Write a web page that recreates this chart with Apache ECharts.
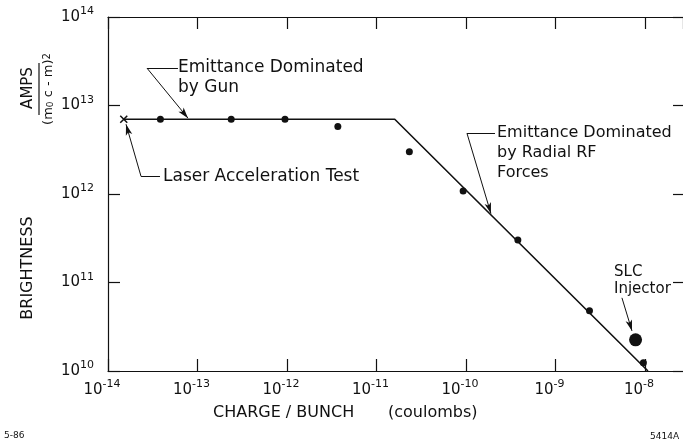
<!DOCTYPE html>
<html><head><meta charset="utf-8">
<script src="https://cdn.jsdelivr.net/npm/echarts@6/dist/echarts.min.js"></script>
<style>html,body{margin:0;padding:0;background:#fff}#c{width:683px;height:439px}</style>
</head><body><div id="c"></div>
<script>
// ---- data (coulombs, brightness) ----
const measuredCharge = [3.85e-14, 2.38e-13, 9.5e-13, 3.7e-12, 2.33e-11, 9.3e-11, 3.8e-10, 2.4e-9, 9.6e-9];
const measuredBrightness = [7.0e12, 7.0e12, 7.0e12, 5.8e12, 3.0e12, 1.08e12, 3.03e11, 4.8e10, 1.24e10];
const theoryCharge = [1.5e-14, 1.6e-11, 1.08e-8];
const theoryBrightness = [7.0e12, 7.0e12, 1.0e10];
const laserTest = [1.5e-14, 7.0e12];
const slcInjector = [7.85e-9, 2.25e10];
const xTickExponents = [-14, -13, -12, -11, -10, -9, -8];
const yTickExponents = [10, 11, 12, 13, 14];
// annotation leader lines, in data coordinates
const leaders = [
  {from: [6.05e-14, 2.64e13], to: [2.73e-14, 2.64e13], arrow: false},
  {from: [2.73e-14, 2.64e13], to: [7.83e-14, 7.2e12], arrow: true},
  {from: [3.81e-14, 1.58e12], to: [2.34e-14, 1.58e12], arrow: false},
  {from: [2.34e-14, 1.58e12], to: [1.59e-14, 6.14e12], arrow: true, curve: -0.12},
  {from: [2.11e-10, 4.85e12], to: [1.026e-10, 4.85e12], arrow: false},
  {from: [1.026e-10, 4.85e12], to: [1.90e-10, 6.01e11], arrow: true},
  {from: [5.53e-9, 6.71e10], to: [7.16e-9, 2.84e10], arrow: true, curve: 0.25}
];

const INK = '#111';
const FONT = 'DejaVu Sans';

function zip(a, b) { return a.map((v, i) => [v, b[i]]); }
function powLabel(list) {
  return function (v) {
    const l = Math.log10(v), e = Math.round(l);
    if (Math.abs(l - e) > 1e-6 || list.indexOf(e) < 0) return '';
    return '{b|10}{s|' + e + '}';
  };
}
const labelRich = {
  b: {fontSize: 15, fontFamily: FONT, color: INK, lineHeight: 22},
  s: {fontSize: 11, fontFamily: FONT, color: INK, verticalAlign: 'top'}
};
const tickStyle = {show: true, inside: true, length: 12, lineStyle: {color: INK, width: 1.2}};
const lineStyle = {color: INK, width: 1.2};

const chart = echarts.init(document.getElementById('c'), null, {renderer: 'canvas'});
chart.setOption({
  animation: false,
  backgroundColor: '#fff',
  grid: {left: 108, right: 0, top: 17, bottom: 68, containLabel: false},
  xAxis: [
    {type: 'log', logBase: 10, min: 1e-14, max: Math.pow(10, -7.575), interval: 1, position: 'bottom',
     axisLine: {show: true, onZero: false, lineStyle: lineStyle}, axisTick: tickStyle,
     axisLabel: {formatter: powLabel(xTickExponents), rich: labelRich, margin: 8, padding: [0, 12, 0, 0], showMaxLabel: false},
     splitLine: {show: false}, minorTick: {show: false}},
    {type: 'log', logBase: 10, min: 1e-14, max: Math.pow(10, -7.575), interval: 1, position: 'top',
     axisLine: {show: true, onZero: false, lineStyle: lineStyle}, axisTick: tickStyle,
     axisLabel: {show: false}, splitLine: {show: false}}
  ],
  yAxis: [
    {type: 'log', logBase: 10, min: 1e10, max: 1e14, interval: 1, position: 'left',
     axisLine: {show: true, onZero: false, lineStyle: lineStyle}, axisTick: tickStyle,
     axisLabel: {formatter: powLabel(yTickExponents), rich: labelRich, margin: 14},
     splitLine: {show: false}, minorTick: {show: false}},
    {type: 'log', logBase: 10, min: 1e10, max: 1e14, interval: 1, position: 'right',
     axisLine: {show: false}, axisTick: Object.assign({}, tickStyle, {length: 10}),
     axisLabel: {show: false}, splitLine: {show: false}}
  ],
  series: [
    {type: 'line', name: 'theory', data: zip(theoryCharge, theoryBrightness), symbol: 'none',
     lineStyle: {color: INK, width: 1.6}, z: 2,
     markLine: {
       silent: true, animation: false, label: {show: false},
       lineStyle: {color: INK, width: 1, type: 'solid'},
       data: leaders.map(l => [
         {coord: l.from, symbol: 'none', lineStyle: {curveness: l.curve || 0, color: INK, width: 1, type: 'solid'}},
         {coord: l.to, symbol: l.arrow ? 'arrow' : 'none', symbolSize: [5, 11]}
       ])
     }},
    {type: 'scatter', name: 'measured', data: zip(measuredCharge, measuredBrightness),
     symbol: 'circle', symbolSize: 7, itemStyle: {color: INK, opacity: 1}, z: 3},
    {type: 'scatter', name: 'SLC Injector', data: [slcInjector],
     symbol: 'circle', symbolSize: 13, itemStyle: {color: INK, opacity: 1}, z: 3},
    {type: 'scatter', name: 'Laser Acceleration Test', data: [laserTest],
     symbol: 'path://M0 0L10 10M10 0L0 10', symbolSize: 7,
     itemStyle: {color: 'none', borderColor: INK, borderWidth: 1.5, opacity: 1}, z: 3}
  ],
  graphic: [
    {type: 'text', x: 178, y: 58, style: {text: 'Emittance Dominated\nby Gun', font: '17px ' + FONT, fill: INK, lineHeight: 20, align: 'left', verticalAlign: 'top', textAlign: 'left', textVerticalAlign: 'top'}},
    {type: 'text', x: 163, y: 177, style: {text: 'Laser Acceleration Test', font: '17px ' + FONT, fill: INK, align: 'left', verticalAlign: 'middle', textAlign: 'left', textVerticalAlign: 'middle'}},
    {type: 'text', x: 497, y: 123, style: {text: 'Emittance Dominated\nby Radial RF\nForces', font: '16px ' + FONT, fill: INK, lineHeight: 20, align: 'left', verticalAlign: 'top', textAlign: 'left', textVerticalAlign: 'top'}},
    {type: 'text', x: 614, y: 264, style: {text: 'SLC\nInjector', font: '15px ' + FONT, fill: INK, lineHeight: 17, align: 'left', verticalAlign: 'top', textAlign: 'left', textVerticalAlign: 'top'}},
    {type: 'text', x: 213, y: 413, style: {text: 'CHARGE / BUNCH', font: '16px ' + FONT, fill: INK, align: 'left', verticalAlign: 'middle', textAlign: 'left', textVerticalAlign: 'middle'}},
    {type: 'text', x: 388, y: 413, style: {text: '(coulombs)', font: '16px ' + FONT, fill: INK, align: 'left', verticalAlign: 'middle', textAlign: 'left', textVerticalAlign: 'middle'}},
    {type: 'text', x: 28, y: 268, rotation: Math.PI / 2, style: {text: 'BRIGHTNESS', font: '16px ' + FONT, fill: INK, align: 'center', verticalAlign: 'middle', textAlign: 'center', textVerticalAlign: 'middle'}},
    {type: 'text', x: 28, y: 88, rotation: Math.PI / 2, style: {text: 'AMPS', font: '15px ' + FONT, fill: INK, align: 'center', verticalAlign: 'middle', textAlign: 'center', textVerticalAlign: 'middle'}},
    {type: 'line', shape: {x1: 39, y1: 63, x2: 39, y2: 115}, style: {stroke: INK, lineWidth: 1.2}},
    {type: 'text', x: 49, y: 89, rotation: Math.PI / 2, style: {text: '(m{sub|0} c - m){sup|2}', font: '13px ' + FONT, fill: INK, align: 'center', verticalAlign: 'middle', textAlign: 'center', textVerticalAlign: 'middle',
      rich: {sub: {fontSize: 9, fontFamily: FONT, fill: INK, color: INK, verticalAlign: 'bottom'}, sup: {fontSize: 10, fontFamily: FONT, fill: INK, color: INK, verticalAlign: 'top'}}}},
    {type: 'text', x: 4, y: 431, style: {text: '5-86', font: '9px ' + FONT, fill: INK, align: 'left', verticalAlign: 'top', textAlign: 'left', textVerticalAlign: 'top'}},
    {type: 'text', x: 650, y: 432, style: {text: '5414A', font: '9px ' + FONT, fill: INK, align: 'left', verticalAlign: 'top', textAlign: 'left', textVerticalAlign: 'top'}}
  ]
});
</script>
</body></html>
